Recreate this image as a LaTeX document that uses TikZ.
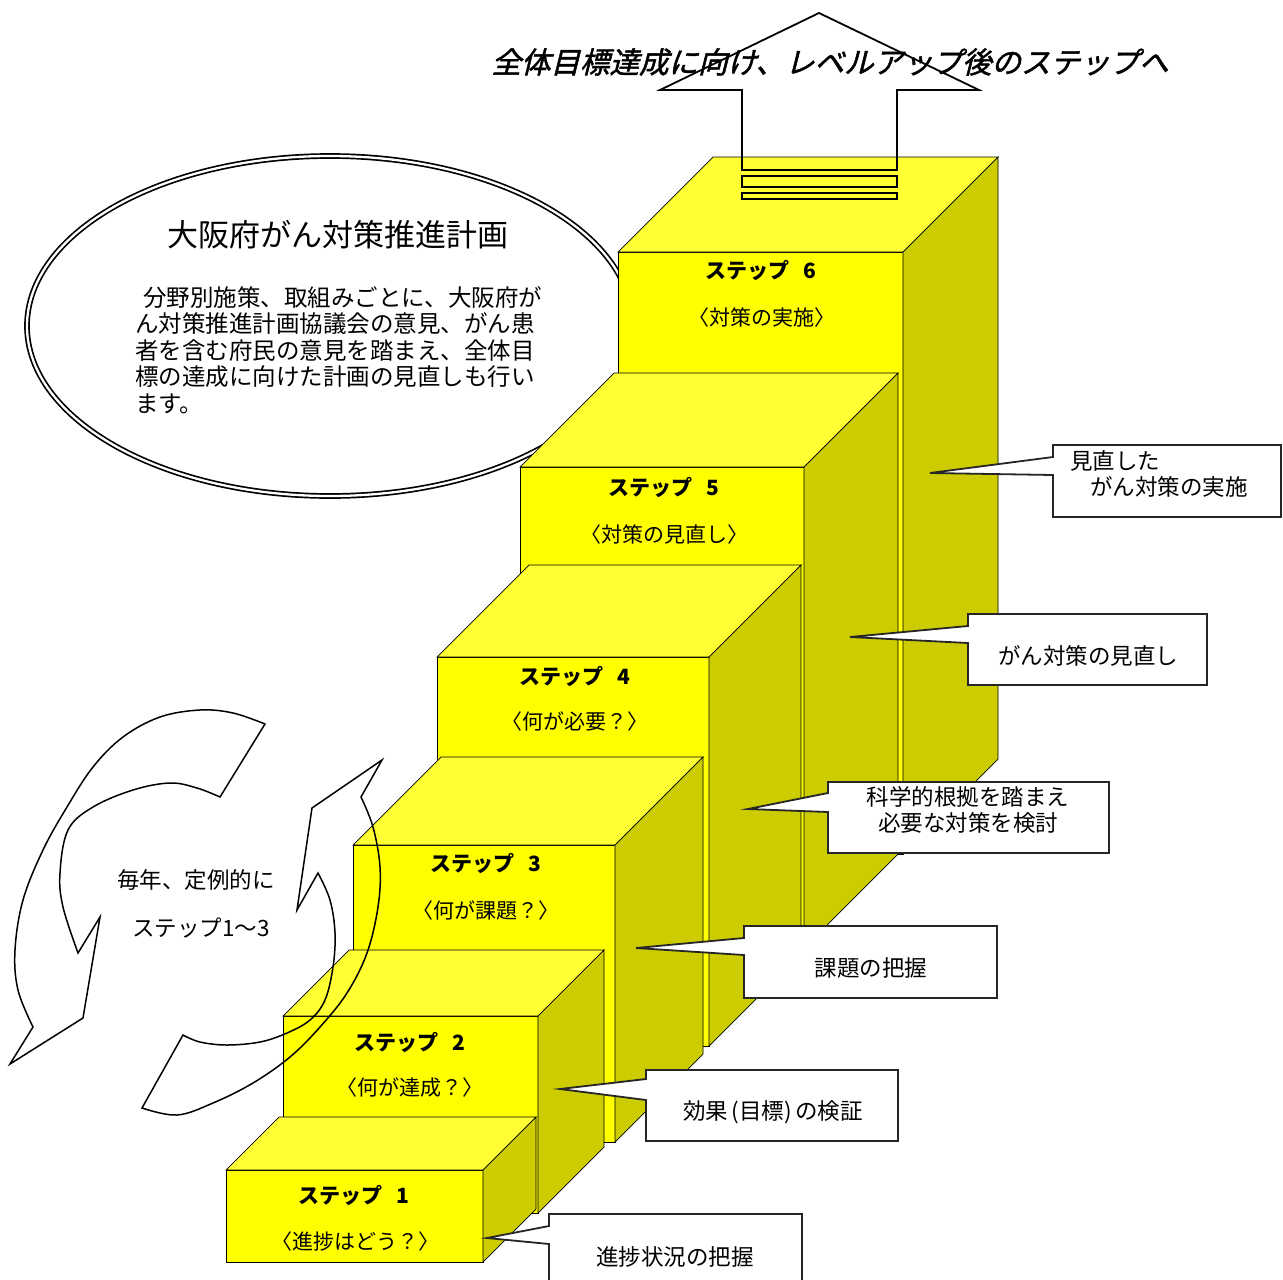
\documentclass[tikz,border=0pt]{standalone}
\usepackage{fontspec}
\setmainfont{Noto Sans CJK JP}
\newfontfamily\jpslant[FakeSlant=0.25,FakeBold=1.6]{Noto Sans CJK JP}
\definecolor{yfront}{RGB}{255,255,0}
\definecolor{ytop}{RGB}{255,255,51}
\definecolor{yside}{RGB}{204,204,0}
\tikzset{
  frontface/.style={fill=yfront,draw=black,line width=0.7},
  topface/.style={fill=ytop,draw=black,line width=0.7},
  sideface/.style={fill=yside,draw=black,line width=0.7},
  steplbl/.style={font=\fontsize{21pt}{24pt}\selectfont\bfseries,inner sep=0},
  sublbl/.style={font=\fontsize{21pt}{24pt}\selectfont,inner sep=0},
  calltext/.style={font=\fontsize{22.5pt}{26pt}\selectfont,inner sep=0,align=center},
  callout/.style={fill=white,draw=black!85,line width=1.8,line join=miter},
  cyc/.style={draw=black,line width=1.5,line join=miter},
  uparrow/.style={draw=black,line width=1.8,line join=miter}
}
\newcommand{\stepcuboid}[6]{% name, xl, xr, yt, yb, d
  \filldraw[frontface] (#2,#4) rectangle (#3,#5);
  \filldraw[topface] (#2,#4) -- (#2+#6,#4-#6) -- (#3+#6,#4-#6) -- (#3,#4) -- cycle;
  \filldraw[sideface] (#3,#4) -- (#3+#6,#4-#6) -- (#3+#6,#5-#6) -- (#3,#5) -- cycle;
  \coordinate (#1) at (#2,#4);
}
\newcommand{\bubble}[8]{% x1,y1,x2,y2,pa,pb,tipx,tipy
  \filldraw[callout] (#1,#2) -- (#1,#5) -- (#7,#8) -- (#1,#6) -- (#1,#4) -- (#3,#4) -- (#3,#2) -- cycle;
}
\begin{document}
\begin{tikzpicture}[x=1pt,y=-1pt]
\useasboundingbox (0,0) rectangle (1283,1280);
\fill[white] (0,0) rectangle (1283,1280);

% ---- ellipse ----
\filldraw[fill=white,draw=black,line width=1.7,double=white,double distance=2.3]
  (330,326) ellipse [x radius=303, y radius=170];
\node[font=\fontsize{31pt}{34pt}\selectfont,inner sep=0] (title) at (338,235) {大阪府がん対策推進計画};
\node[font=\fontsize{23.5pt}{26.5pt}\selectfont,inner sep=0,align=left,anchor=north west] (body) at (135,286)
  {\hspace{0.35em}分野別施策、取組みごとに、大阪府が\\
   ん対策推進計画協議会の意見、がん患\\
   者を含む府民の意見を踏まえ、全体目\\
   標の達成に向けた計画の見直しも行い\\
   ます。};

% ---- cuboids (back to front) ----
\stepcuboid{c6}{618}{903}{252}{854}{95}
\stepcuboid{c5}{520}{804}{467}{948}{94}
\stepcuboid{c4}{437}{709}{657}{1046}{92}
\stepcuboid{c3}{353}{615}{845}{1142}{88}
\stepcuboid{c2}{283}{538}{1016}{1213}{66}
\stepcuboid{c1}{226}{483}{1170}{1262}{53}

\node[steplbl] (s6a) at (761,270) {ステップ\hspace{0.7em}6};
\node[sublbl]  (s6b) at (762,318) {〈対策の実施〉};
\node[steplbl] (s5a) at (664,487) {ステップ\hspace{0.7em}5};
\node[sublbl]  (s5b) at (664,535) {〈対策の見直し〉};
\node[steplbl] (s4a) at (575,676) {ステップ\hspace{0.7em}4};
\node[sublbl]  (s4b) at (575,722) {〈何が必要？〉};
\node[steplbl] (s3a) at (486,863) {ステップ\hspace{0.7em}3};
\node[sublbl]  (s3b) at (486,911) {〈何が課題？〉};
\node[steplbl] (s2a) at (410,1042) {ステップ\hspace{0.7em}2};
\node[sublbl]  (s2b) at (410,1088) {〈何が達成？〉};
\node[steplbl] (s1a) at (354,1195) {ステップ\hspace{0.7em}1};
\node[sublbl]  (s1b) at (355,1242) {〈進捗はどう？〉};

% ---- up arrow ----
\draw[uparrow] (742,170) -- (742,90) -- (660,90) -- (819,13) -- (979,90) -- (897,90) -- (897,170) -- cycle;
\draw[uparrow] (742,176) rectangle (897,187);
\draw[uparrow] (742,193) rectangle (897,199);
\node[font=\fontsize{29.5pt}{32pt}\selectfont\jpslant,inner sep=0] (head) at (830,62)
  {全体目標達成に向け、レベルアップ後のステップへ};

% ---- callouts ----
\bubble{1053}{445}{1281}{517}{457}{475}{930}{473}
\node[calltext,anchor=west] (k6a) at (1070,461) {見直した};
\node[calltext,anchor=west] (k6b) at (1090,487) {がん対策の実施};
\bubble{968}{614}{1207}{685}{626}{643}{850}{637}
\node[calltext] (k5) at (1088,656) {がん対策の見直し};
\bubble{828}{782}{1109}{853}{793}{812}{748}{809}
\node[calltext] (k4a) at (968,797) {科学的根拠を踏まえ};
\node[calltext] (k4b) at (968,823) {必要な対策を検討};
\bubble{744}{926}{997}{998}{938}{955}{636}{948}
\node[calltext] (k3) at (871,968) {課題の把握};
\bubble{646}{1070}{898}{1141}{1079}{1100}{560}{1089}
\node[calltext] (k2) at (773,1112) {効果\hspace{0.15em}(目標)\hspace{0.15em}の検証};
\bubble{549}{1214}{802}{1295}{1226}{1244}{487}{1238}
\node[calltext] (k1) at (675,1257) {進捗状況の把握};

% ---- cycle arrows ----
\draw[cyc] plot[smooth,tension=0.6] coordinates {(265,724) (233,713) (200,710) (160,717) (123,737) (93,767) (67,807) (43,850) (23,900) (15,950) (18,990) (33,1027)}
  -- (10,1064) -- (83,1018) -- (100,917) -- (78,953)
  -- plot[smooth,tension=0.6] coordinates {(78,953) (63,907) (60,873) (68,830) (93,807) (133,790) (170,783) (197,788) (220,797)} -- cycle;
\draw[cyc] plot[smooth,tension=0.6] coordinates {(142,1108) (177,1115) (213,1103) (253,1083) (290,1057) (320,1027) (347,993) (367,953) (378,907) (380,867) (373,827) (361,797)}
  -- (382,760) -- (312,808) -- (297,910) -- (318,873)
  -- plot[smooth,tension=0.6] coordinates {(318,873) (330,900) (335,933) (333,967) (325,1000) (310,1020) (287,1033) (260,1042) (227,1045) (200,1042) (183,1035)} -- cycle;
\node[font=\fontsize{22.5pt}{26pt}\selectfont,inner sep=0] (cy1) at (196,880) {毎年、定例的に};
\node[font=\fontsize{22.5pt}{26pt}\selectfont,inner sep=0] (cy2) at (201,928) {ステップ1～3};
\end{tikzpicture}
\end{document}
